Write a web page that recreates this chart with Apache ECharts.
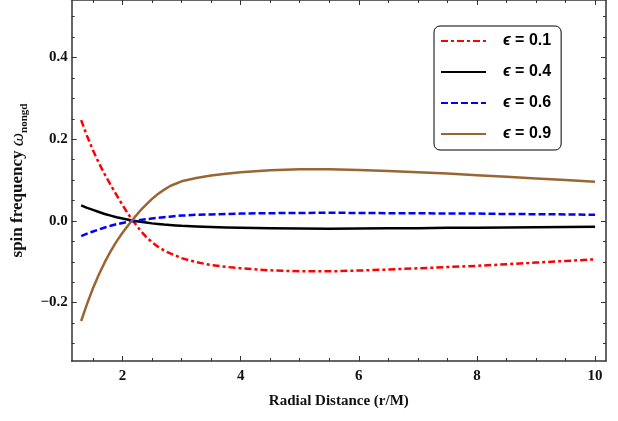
<!DOCTYPE html>
<html>
<head>
<meta charset="utf-8">
<script src="https://cdn.jsdelivr.net/npm/echarts@6/dist/echarts.min.js"></script>
<style>html,body{margin:0;padding:0;background:#fff}#c{width:618px;height:421px}</style>
</head>
<body>
<div id="c"></div>
<script>
const rValues = [1.3,1.4,1.5,1.6,1.7,1.8,1.9,2.0,2.1,2.2,2.3,2.4,2.5,2.6,2.7,2.8,2.9,3.0,3.25,3.5,3.75,4,4.5,5,5.5,6,6.5,7,7.5,8,8.5,9,9.5,10];
const eps01 = [0.247,0.208,0.173,0.142,0.114,0.088,0.063,0.039,0.016,-0.004,-0.023,-0.039,-0.052,-0.063,-0.072,-0.079,-0.085,-0.091,-0.101,-0.108,-0.1125,-0.116,-0.121,-0.1235,-0.1235,-0.1215,-0.119,-0.116,-0.113,-0.110,-0.106,-0.102,-0.098,-0.094];
const eps04 = [0.038,0.032,0.027,0.022,0.017,0.013,0.009,0.006,0.003,0.000,-0.002,-0.004,-0.006,-0.0075,-0.009,-0.010,-0.011,-0.012,-0.0135,-0.015,-0.016,-0.017,-0.018,-0.0185,-0.019,-0.0185,-0.018,-0.018,-0.017,-0.017,-0.016,-0.0155,-0.015,-0.014];
const eps06 = [-0.037,-0.031,-0.026,-0.021,-0.016,-0.012,-0.008,-0.005,-0.002,0.000,0.002,0.004,0.006,0.0075,0.009,0.0105,0.012,0.013,0.015,0.016,0.017,0.018,0.019,0.0195,0.020,0.0195,0.019,0.019,0.018,0.018,0.017,0.0165,0.016,0.015];
const eps09 = [-0.245,-0.203,-0.165,-0.131,-0.101,-0.074,-0.050,-0.029,-0.010,0.008,0.025,0.040,0.054,0.066,0.076,0.085,0.091,0.097,0.105,0.111,0.1155,0.119,0.124,0.1265,0.1265,0.125,0.122,0.119,0.116,0.112,0.108,0.104,0.100,0.096];
const seriesNames = ['ϵ = 0.1','ϵ = 0.4','ϵ = 0.6','ϵ = 0.9'];
const xMajorTicks = [2,4,6,8,10];
const xMinorTicks = [1.5,2.5,3,3.5,4.5,5,5.5,6.5,7,7.5,8.5,9,9.5];
const yMajorTicks = [-0.2,0,0.2,0.4];
const yMinorTicks = [-0.3,-0.25,-0.15,-0.1,-0.05,0.05,0.1,0.15,0.25,0.3,0.35,0.45,0.5];

const X_MIN = 1.14, X_MAX = 10.185, Y_MIN = -0.343, Y_MAX = 0.541;
const frameColor = '#333';
const serif = '"Liberation Serif", "DejaVu Serif", serif';
const sans = '"Liberation Sans", Arial, sans-serif';

function pairs(ys){ return rValues.map((x,i)=>[x, ys[i]]); }

function xAx(pos, ticks, len, showLine, labels){
  return {
    type:'value', position:pos, min:X_MIN, max:X_MAX,
    axisLine:{show:showLine, onZero:false, lineStyle:{color:frameColor, width:1.5}},
    axisTick:{show:true, inside:true, length:len, customValues:ticks, lineStyle:{color:frameColor, width:1}},
    axisLabel: labels ? {show:true, customValues:ticks, margin:8, color:'#111', fontFamily:serif, fontWeight:'bold', fontSize:15} : {show:false},
    splitLine:{show:false}
  };
}
function yAx(pos, ticks, len, showLine, labels){
  return {
    type:'value', position:pos, min:Y_MIN, max:Y_MAX,
    axisLine:{show:showLine, onZero:false, lineStyle:{color:frameColor, width:1.5}},
    axisTick:{show:true, inside:true, length:len, customValues:ticks, lineStyle:{color:frameColor, width:1}},
    axisLabel: labels ? {show:true, customValues:ticks, margin:4, color:'#111', fontFamily:serif, fontWeight:'bold', fontSize:15,
      formatter:v=> (v < -1e-9 ? '\u2212' : '') + Math.abs(v).toFixed(1)} : {show:false},
    splitLine:{show:false}
  };
}

const xAxes = [xAx('bottom', xMajorTicks, 5, true, true), xAx('bottom', xMinorTicks, 3, false, false),
               xAx('top', xMajorTicks, 5, true, false), xAx('top', xMinorTicks, 3, false, false)];
Object.assign(xAxes[0], {name:'Radial Distance (r/M)', nameLocation:'middle', nameGap:31,
  nameTextStyle:{fontFamily:serif, fontWeight:'bold', fontSize:15, color:'#111', lineHeight:18}});
const yAxes = [yAx('left', yMajorTicks, 5, true, true), yAx('left', yMinorTicks, 3, false, false),
               yAx('right', yMajorTicks, 5, true, false), yAx('right', yMinorTicks, 3, false, false)];
Object.assign(yAxes[0], {name:'{a|spin frequency }{w|ω}{s|nongd}', nameLocation:'middle', nameGap:37, nameRotate:90,
  nameTextStyle:{rich:{
    a:{fontFamily:serif, fontWeight:'bold', fontSize:17, color:'#111', lineHeight:24},
    w:{fontFamily:serif, fontStyle:'italic', fontSize:19, color:'#111', lineHeight:24},
    s:{fontFamily:serif, fontWeight:'bold', fontSize:11, color:'#111', lineHeight:11, verticalAlign:'bottom'}
  }}});

const styles = [
  {color:'#ff0000', type:[7,3,3,3]},
  {color:'#000000', type:'solid'},
  {color:'#0000ff', type:[7,3]},
  {color:'#996633', type:'solid'}
];
const datas = [eps01, eps04, eps06, eps09];

const chart = echarts.init(document.getElementById('c'), null, {renderer:'canvas'});
chart.setOption({
  animation:false,
  backgroundColor:'#fff',
  grid:{left:68, right:12, top:0, bottom:60, containLabel:false},
  xAxis:xAxes,
  yAxis:yAxes,
  legend:{
    orient:'vertical', left:434, top:26,
    data:seriesNames,
    itemWidth:45, itemHeight:16, itemGap:15,
    padding:[7,10,8,6],
    backgroundColor:'#fff', borderColor:'#000', borderWidth:1, borderRadius:6,
    itemStyle:{opacity:0},
    lineStyle:{width:2},
    textStyle:{fontFamily:sans, fontWeight:'bold', fontSize:16, color:'#000', lineHeight:16, padding:[0,0,0,12],
      rich:{e:{fontFamily:sans, fontWeight:'bold', fontStyle:'italic', fontSize:16, color:'#000'}}},
    formatter: n => n.replace('ϵ','{e|ϵ}')
  },
  series: seriesNames.map((n,i)=>({
    name:n, type:'line', xAxisIndex:0, yAxisIndex:0,
    data:pairs(datas[i]), smooth:false, symbol:'none', showSymbol:false,
    lineStyle:{color:styles[i].color, type:styles[i].type, width:2.5, join:'round', cap:'butt'},
    itemStyle:{color:styles[i].color}
  }))
});
</script>
</body>
</html>
